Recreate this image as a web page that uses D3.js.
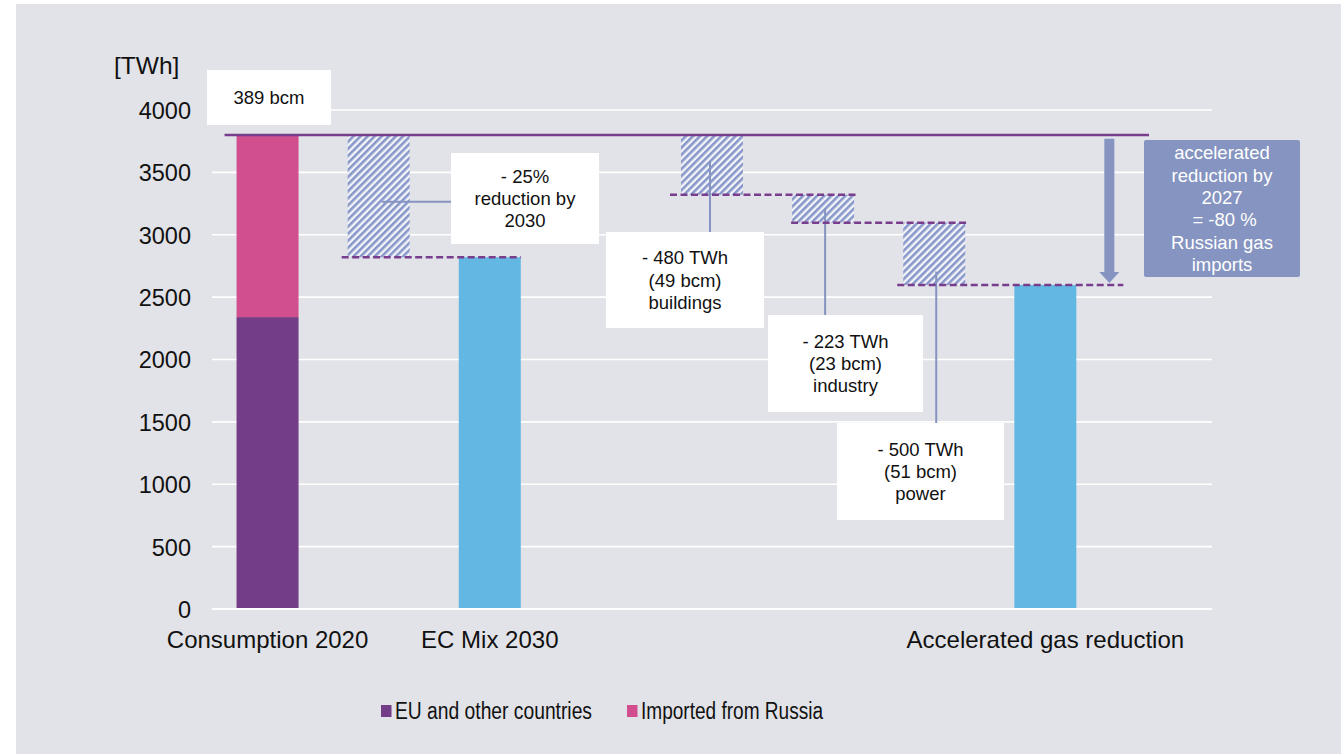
<!DOCTYPE html>
<html>
<head>
<meta charset="utf-8">
<script src="https://cdn.jsdelivr.net/npm/d3@7/dist/d3.min.js"></script>
<style>
  html, body { margin: 0; padding: 0; background: #ffffff; }
  svg { display: block; font-family: "Liberation Sans", Arial, sans-serif; }
</style>
</head>
<body>
<svg id="chart" width="1341" height="754"></svg>
<script>
// ---- data (TWh) ----
const slots = ["c2020", "cut2030", "mix2030", "gap", "buildings", "industry", "power", "accel", "note"];
const axisLabels = ["Consumption 2020", "", "EC Mix 2030", "", "", "", "", "Accelerated gas reduction", ""];
const yTicks = [0, 500, 1000, 1500, 2000, 2500, 3000, 3500, 4000];

const seriesNames = ["EU and other countries", "Imported from Russia"];
const consumption2020 = [2340, 1460];          // EU & others, imported from Russia
const total2020 = consumption2020[0] + consumption2020[1];
const ecMix2030 = 2820;

const savingSlots = ["buildings", "industry", "power"];
const savingTWh = [480, 223, 500];
const savingBcm = [49, 23, 51];
const savingSector = ["buildings", "industry", "power"];
const accelerated = total2020 - d3.sum(savingTWh);

// ---- colours ----
const C = {
  bg: "#e2e3e8", grid: "#ffffff",
  eu: "#733d88", ru: "#d14f8f", blue: "#63b8e3",
  purpleLine: "#783d8c", steel: "#8594c0", stripe: "#8797c8"
};

const svg = d3.select("#chart");
svg.append("rect").attr("x", 16).attr("y", 4).attr("width", 1341 - 16).attr("height", 754 - 4).attr("fill", C.bg);

const defs = svg.append("defs");
const pat = defs.append("pattern").attr("id", "hatch").attr("patternUnits", "userSpaceOnUse")
  .attr("width", 5).attr("height", 5).attr("patternTransform", "rotate(45)");
pat.append("rect").attr("width", 5).attr("height", 5).attr("fill", "#f3f4fa");
pat.append("rect").attr("width", 2.6).attr("height", 5).attr("fill", C.stripe);

// ---- scales ----
const x = d3.scaleBand().domain(slots).range([212, 1212]).paddingInner(0.442).paddingOuter(0.221);
const y = d3.scaleLinear().domain([0, 4000]).range([609, 110]);
const bw = x.bandwidth();
const cx = s => x(s) + bw / 2;

// ---- grid + y axis ----
const grid = svg.append("g");
grid.selectAll("line").data(yTicks.filter(t => t > 0)).join("line")
  .attr("x1", 212).attr("x2", 1212).attr("y1", d => y(d)).attr("y2", d => y(d))
  .attr("stroke", C.grid).attr("stroke-width", 1.6);

const yAxis = svg.append("g").attr("transform", "translate(191,0)")
  .call(d3.axisLeft(y).tickValues(yTicks).tickSize(0).tickPadding(0).tickFormat(d3.format("d")));
yAxis.select(".domain").remove();
yAxis.selectAll("text").attr("font-size", 23.5).attr("fill", "#111").attr("font-family", "Liberation Sans, Arial, sans-serif")
  .attr("dy", "0.36em");

svg.append("text").attr("x", 114).attr("y", 65).attr("dy", "0.36em")
  .attr("font-size", 24.5).attr("fill", "#111").text("[TWh]");

// ---- x axis labels ----
const xAxis = svg.append("g").attr("transform", "translate(0,639)")
  .call(d3.axisBottom(x).tickSize(0).tickPadding(0).tickFormat((d, i) => axisLabels[i]));
xAxis.select(".domain").remove();
xAxis.selectAll("text").attr("font-size", 24).attr("fill", "#111").attr("font-family", "Liberation Sans, Arial, sans-serif")
  .attr("dy", "0.36em");

// ---- bars ----
const stack = [
  { y0: 0, y1: consumption2020[0], fill: C.eu },
  { y0: consumption2020[0], y1: total2020, fill: C.ru }
];
svg.append("g").selectAll("rect").data(stack).join("rect")
  .attr("x", x("c2020")).attr("width", bw)
  .attr("y", d => y(d.y1)).attr("height", d => y(d.y0) - y(d.y1)).attr("fill", d => d.fill);

const solid = [{ slot: "mix2030", v: ecMix2030 }, { slot: "accel", v: accelerated }];
svg.append("g").selectAll("rect").data(solid).join("rect")
  .attr("x", d => x(d.slot)).attr("width", bw)
  .attr("y", d => y(d.v)).attr("height", d => y(0) - y(d.v)).attr("fill", C.blue);

// ---- hatched reduction blocks ----
const steps = [{ slot: "cut2030", top: total2020, bottom: ecMix2030 }];
let level = total2020;
savingSlots.forEach((s, i) => { steps.push({ slot: s, top: level, bottom: level - savingTWh[i] }); level -= savingTWh[i]; });
svg.append("g").selectAll("rect").data(steps).join("rect")
  .attr("x", d => x(d.slot)).attr("width", bw)
  .attr("y", d => y(d.top)).attr("height", d => y(d.bottom) - y(d.top)).attr("fill", "url(#hatch)");

// baseline
svg.append("line").attr("x1", 212).attr("x2", 1212).attr("y1", y(0)).attr("y2", y(0))
  .attr("stroke", C.grid).attr("stroke-width", 2.2);

// ---- connectors ----
const conn = svg.append("g").attr("stroke", C.steel).attr("stroke-width", 2).attr("fill", "none");
conn.append("line").attr("x1", cx("cut2030") + 3).attr("x2", 451).attr("y1", y(3265)).attr("y2", y(3265));
conn.append("line").attr("x1", cx("buildings") - 2).attr("x2", cx("buildings") - 2).attr("y1", y(3590)).attr("y2", 232);
conn.append("line").attr("x1", cx("industry") + 2).attr("x2", cx("industry") + 2).attr("y1", y(3210)).attr("y2", 315);
conn.append("line").attr("x1", cx("power") + 2).attr("x2", cx("power") + 2).attr("y1", y(2705)).attr("y2", 423);

// ---- label boxes ----
const boxes = [
  { x0: 207, x1: 331, y0: 70, y1: 125, lines: ["389 bcm"] },
  { x0: 451, x1: 599, y0: 153, y1: 244, lines: ["- 25%", "reduction by", "2030"] }
];
savingSlots.forEach((s, i) => {
  boxes.push({ lines: ["- " + savingTWh[i] + " TWh", "(" + savingBcm[i] + " bcm)", savingSector[i]] });
});
Object.assign(boxes[2], { x0: 606, x1: 764, y0: 232, y1: 328 });
Object.assign(boxes[3], { x0: 768, x1: 923, y0: 315, y1: 412 });
Object.assign(boxes[4], { x0: 837, x1: 1004, y0: 423, y1: 520 });

const bg = svg.append("g").selectAll("g").data(boxes).join("g");
bg.append("rect").attr("x", d => d.x0).attr("y", d => d.y0)
  .attr("width", d => d.x1 - d.x0).attr("height", d => d.y1 - d.y0).attr("fill", "#ffffff");
bg.each(function (d) {
  const g = d3.select(this);
  const mid = (d.y0 + d.y1) / 2, lh = 22.3;
  d.lines.forEach((t, i) => {
    g.append("text").attr("x", (d.x0 + d.x1) / 2).attr("y", mid + (i - (d.lines.length - 1) / 2) * lh)
      .attr("dy", "0.36em").attr("text-anchor", "middle").attr("font-size", 18.5).attr("fill", "#111").text(t);
  });
});

// ---- level lines ----
const dashed = [
  { v: ecMix2030, a: x("cut2030") - 6, b: x("mix2030") + bw },
  { v: steps[1].bottom, a: x("buildings") - 11, b: x("industry") + bw + 3 },
  { v: steps[2].bottom, a: x("industry") - 1, b: x("power") + bw + 4 },
  { v: accelerated, a: x("power") - 6, b: x("accel") + bw + 47 }
];
svg.append("g").selectAll("line").data(dashed).join("line")
  .attr("x1", d => d.a).attr("x2", d => d.b).attr("y1", d => y(d.v)).attr("y2", d => y(d.v))
  .attr("stroke", C.purpleLine).attr("stroke-width", 2.5).attr("stroke-dasharray", "7,3.5");

svg.append("line").attr("x1", x("c2020") - 12).attr("x2", 1149).attr("y1", y(total2020)).attr("y2", y(total2020))
  .attr("stroke", C.purpleLine).attr("stroke-width", 2.4);

// ---- accelerated reduction arrow + note ----
const ax = x("accel") + bw + 33, tipY = y(accelerated) - 2;
svg.append("path")
  .attr("d", `M${ax - 5},${y(3770)} L${ax + 5},${y(3770)} L${ax + 5},${tipY - 11} L${ax + 10},${tipY - 11} L${ax},${tipY} L${ax - 10},${tipY - 11} L${ax - 5},${tipY - 11} Z`)
  .attr("fill", C.steel);

const note = { x0: 1144, x1: 1300, y0: 140, y1: 277,
  lines: ["accelerated", "reduction by", "2027", " = -80 %", "Russian gas", "imports"] };
svg.append("rect").attr("x", note.x0).attr("y", note.y0).attr("width", note.x1 - note.x0)
  .attr("height", note.y1 - note.y0).attr("rx", 2).attr("fill", C.steel);
note.lines.forEach((t, i) => {
  svg.append("text").attr("x", (note.x0 + note.x1) / 2)
    .attr("y", (note.y0 + note.y1) / 2 + (i - 2.5) * 22.4).attr("dy", "0.36em")
    .attr("text-anchor", "middle").attr("font-size", 18.5).attr("fill", "#ffffff")
    .attr("xml:space", "preserve").text(t);
});

// ---- legend ----
const legendX = [381, 627], legendW = [197, 182];
const lg = svg.append("g").selectAll("g").data(seriesNames).join("g")
  .attr("transform", (d, i) => `translate(${legendX[i]},711)`);
lg.append("rect").attr("x", 0).attr("y", -6).attr("width", 10.5).attr("height", 12)
  .attr("fill", (d, i) => [C.eu, C.ru][i]);
lg.append("text").attr("x", 14).attr("dy", "0.36em").attr("font-size", 23).attr("fill", "#111")
  .attr("textLength", (d, i) => legendW[i]).attr("lengthAdjust", "spacingAndGlyphs").text(d => d);
</script>
</body>
</html>
